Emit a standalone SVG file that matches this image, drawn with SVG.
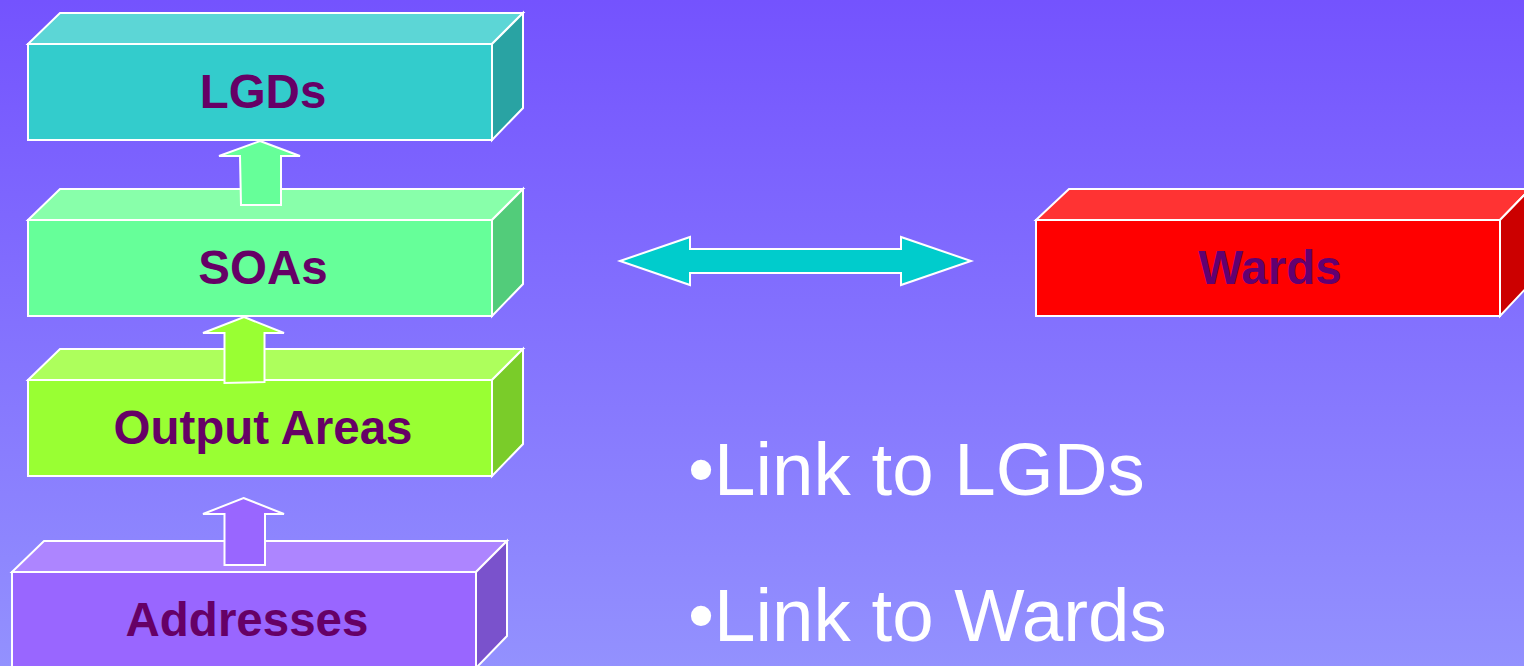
<svg xmlns="http://www.w3.org/2000/svg" width="1524" height="666" viewBox="0 0 1524 666">
<defs>
<linearGradient id="bg" x1="0" y1="0" x2="0" y2="1">
<stop offset="0" stop-color="#7453fe"/>
<stop offset="1" stop-color="#9391fe"/>
</linearGradient>
</defs>
<style>
.e{stroke:#fff;stroke-width:2;stroke-linejoin:miter}
.lbl{font-family:"Liberation Sans",Arial,sans-serif;font-weight:bold;font-size:47.5px;fill:#660066;text-anchor:middle}
.bul{font-family:"Liberation Sans",Arial,sans-serif;font-size:74.5px;fill:#fff}
</style>
<rect width="1524" height="666" fill="url(#bg)"/>

<g id="lgds">
<polygon class="e" fill="#5cd6d6" points="28,44 60,13 523,13 492,44"/>
<polygon class="e" fill="#29a3a3" points="492,44 523,13 523,108 492,140"/>
<rect class="e" fill="#33cccc" x="28" y="44" width="464" height="96"/>
<text class="lbl" x="263" y="107.5">LGDs</text>
</g>

<g id="soas">
<polygon class="e" fill="#88ffaa" points="28,220 60,189 523,189 492,220"/>
<polygon class="e" fill="#52cc7a" points="492,220 523,189 523,284 492,316"/>
<rect class="e" fill="#66ff99" x="28" y="220" width="464" height="96"/>
<text class="lbl" x="263" y="284">SOAs</text>
</g>

<g id="output-areas">
<polygon class="e" fill="#adff5c" points="28,380 60,349 523,349 492,380"/>
<polygon class="e" fill="#7acc29" points="492,380 523,349 523,444 492,476"/>
<rect class="e" fill="#99ff33" x="28" y="380" width="464" height="96"/>
<text class="lbl" x="263" y="444">Output Areas</text>
</g>

<g id="addresses">
<polygon class="e" fill="#ad85ff" points="12,572 44,541 507,541 476,572"/>
<polygon class="e" fill="#7a52cc" points="476,572 507,541 507,636 476,668"/>
<rect class="e" fill="#9966ff" x="12" y="572" width="464" height="100"/>
<text class="lbl" x="247" y="636">Addresses</text>
</g>

<g id="wards">
<polygon class="e" fill="#ff3333" points="1036,220 1069,189 1530,189 1500,220"/>
<polygon class="e" fill="#cc0000" points="1500,220 1530,189 1530,284 1500,316"/>
<rect class="e" fill="#ff0000" x="1036" y="220" width="464" height="96"/>
<text class="lbl" x="1270" y="283.5" fill="#600070" style="fill:#620070">Wards</text>
</g>

<g id="connectors">
<polygon class="e" fill="#66ff99" points="260,141 300,156 281,156 281,205 241,205 240,156 219,156"/>
<polygon class="e" fill="#99ff33" points="244,317 284,333 264.5,333 264.5,382 224.5,383 224.5,333 203,333"/>
<polygon class="e" fill="#9966ff" points="243.5,498 284,514 265,514 265,565 224.5,565 224.5,514 203,514"/>
<polygon class="e" fill="#00cccc" points="620,261 690,237 690,249 901,249 901,237 971,261 901,285 901,273 690,273 690,285"/>
</g>

<text class="bul" x="688" y="494.5">•Link to LGDs</text>
<text class="bul" x="688" y="641">•Link to Wards</text>
</svg>
